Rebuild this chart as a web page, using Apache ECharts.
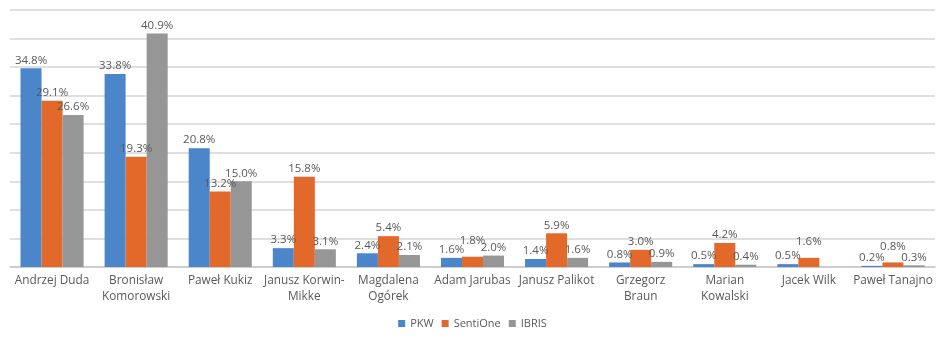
<!DOCTYPE html>
<html><head><meta charset="utf-8">
<script src="https://cdn.jsdelivr.net/npm/echarts@6/dist/echarts.min.js"></script>
<style>html,body{margin:0;padding:0;background:#fff}#c{width:945px;height:338px}</style>
</head><body><div id="c"></div>
<script>
const categories = ['Andrzej Duda','Bronisław\nKomorowski','Paweł Kukiz','Janusz Korwin-\nMikke','Magdalena\nOgórek','Adam Jarubas','Janusz Palikot','Grzegorz\nBraun','Marian\nKowalski','Jacek Wilk','Paweł Tanajno'];
const pkw      = [34.8, 33.8, 20.8, 3.3, 2.4, 1.6, 1.4, 0.8, 0.5, 0.5, 0.2];
const sentiOne = [29.1, 19.3, 13.2, 15.8, 5.4, 1.8, 5.9, 3.0, 4.2, 1.6, 0.8];
const ibris    = [26.6, 40.9, 15.0, 3.1, 2.1, 2.0, 1.6, 0.9, 0.4, null, 0.3];
const seriesNames = ['PKW','SentiOne','IBRIS'];
const colors = ['#4a86c9','#e3692a','#969696'];
const font = 'Open Sans';
const chart = echarts.init(document.getElementById('c'));
const mk = (name, data, color, layout) => ({
  name, type: 'bar', data, barGap: '0%', barCategoryGap: '25%',
  itemStyle: { color },
  labelLayout: layout,
  label: { show: true, position: 'top', distance: 2, fontFamily: font, fontSize: 11.5, color: '#595959',
    formatter: p => p.value == null ? '' : p.value.toFixed(1) + '%' }
});
// raise small middle-series labels so they clear their neighbours (as in the source chart)
const raiseSmall = p => (sentiOne[p.dataIndex] < 2 ? { dy: -8 } : {});
chart.setOption({
  animation: false,
  color: colors,
  grid: { left: 10, right: 10, top: 10, bottom: 71, containLabel: false, outerBoundsMode: 'none' },
  legend: { top: 313, left: 'center', itemWidth: 7, itemHeight: 7, itemGap: 8, icon: 'rect',
    textStyle: { fontFamily: font, fontSize: 11, color: '#595959' }, data: seriesNames },
  xAxis: { type: 'category', data: categories,
    axisLine: { lineStyle: { color: '#c8c8c8', width: 1.5 } }, axisTick: { show: false },
    axisLabel: { interval: 0, margin: 5, fontFamily: font, fontSize: 11.8, color: '#595959', lineHeight: 16.5 } },
  yAxis: { type: 'value', min: 0, max: 45, interval: 5, axisLabel: { show: false },
    axisLine: { show: false }, axisTick: { show: false },
    splitLine: { lineStyle: { color: '#d4d4d4', width: 1.5 } } },
  series: [mk(seriesNames[0], pkw, colors[0]), mk(seriesNames[1], sentiOne, colors[1], raiseSmall), mk(seriesNames[2], ibris, colors[2])]
});
</script></body></html>
